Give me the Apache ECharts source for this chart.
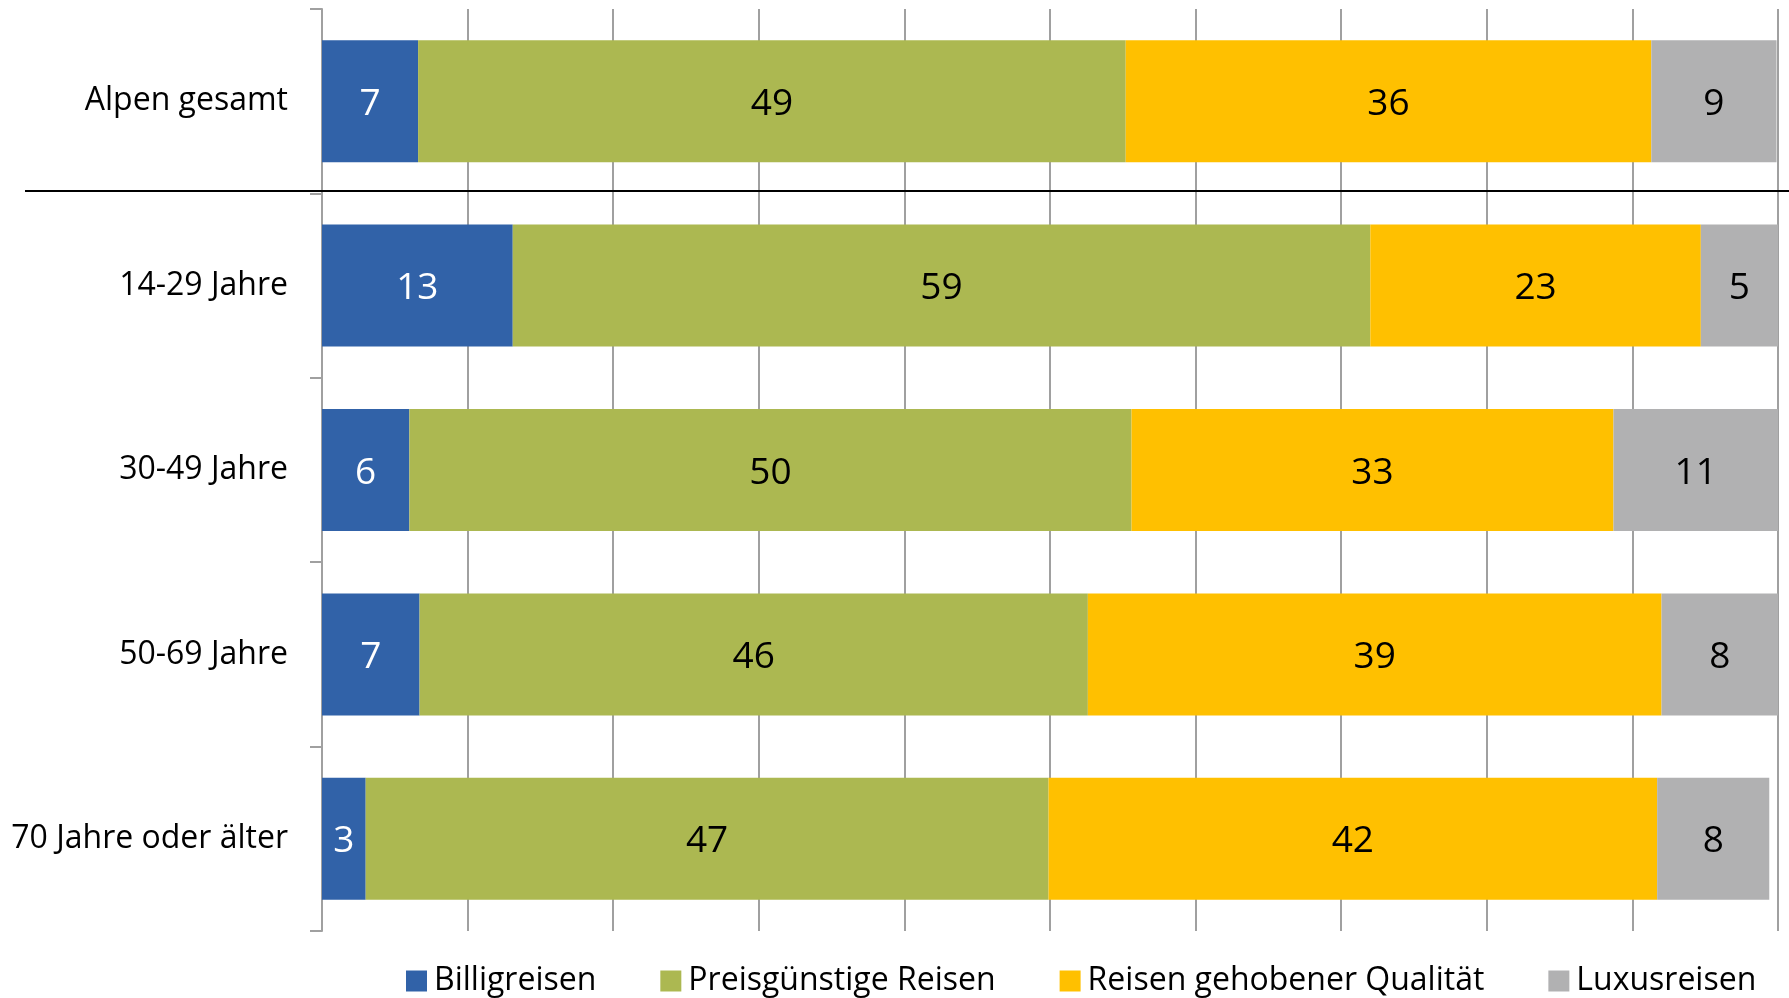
<!DOCTYPE html>
<html>
<head>
<meta charset="utf-8">
<title>Reisearten nach Alter</title>
<script src="https://cdn.jsdelivr.net/npm/echarts@6/dist/echarts.min.js"></script>
<style>
  html, body { margin: 0; padding: 0; background: #fff; }
  #chart { width: 1789px; height: 998px; }
</style>
</head>
<body>
<div id="chart"></div>
<script>
// categories (top to bottom)
const categories = ['Alpen gesamt', '14-29 Jahre', '30-49 Jahre', '50-69 Jahre', '70 Jahre oder älter'];
const seriesNames = ['Billigreisen', 'Preisgünstige Reisen', 'Reisen gehobener Qualität', 'Luxusreisen'];

// shares in % (labels show rounded values)
const billig = [6.6, 13.1, 6.0, 6.7, 3.0];
const preisguenstig = [48.6, 58.9, 49.6, 45.9, 46.9];
const gehoben = [36.1, 22.7, 33.1, 39.4, 41.8];
const luxus = [8.6, 5.3, 11.3, 8.0, 7.7];

const xTicks = [0, 10, 20, 30, 40, 50, 60, 70, 80, 90, 100];

const colors = ['#3162a8', '#acb851', '#ffc000', '#b1b1b2'];
const labelColors = ['#ffffff', '#000000', '#000000', '#000000'];
const FONT = '"Open Sans", "Noto Sans", sans-serif';

const chart = echarts.init(document.getElementById('chart'));

const makeSeries = (name, data, i) => ({
    name,
    type: 'bar',
    stack: 'total',
    data,
    barWidth: 122,
    itemStyle: { color: colors[i] },
    label: {
        show: true,
        position: 'inside',
        offset: [0, 3],
        color: labelColors[i],
        fontFamily: FONT,
        fontSize: 37,
        formatter: p => Math.round(p.value)
    },
    emphasis: { disabled: true }
});

const option = {
    animation: false,
    backgroundColor: '#fff',
    grid: { left: 322, right: 11, top: 9, bottom: 67 },
    legend: {
        data: seriesNames,
        left: 401,
        top: 957,
        icon: 'rect',
        itemWidth: 21,
        itemHeight: 21,
        itemGap: 64,
        textStyle: { fontFamily: FONT, fontSize: 32, color: '#000', lineHeight: 38, padding: [0, 0, 0, 2] }
    },
    xAxis: {
        type: 'value',
        min: xTicks[0],
        max: xTicks[xTicks.length - 1],
        interval: xTicks[1] - xTicks[0],
        axisLine: { show: false },
        axisTick: { show: false },
        axisLabel: { show: false },
        splitLine: { show: true, lineStyle: { color: '#a0a0a0', width: 2 } }
    },
    yAxis: {
        type: 'category',
        inverse: true,
        data: categories,
        axisLine: { show: true, lineStyle: { color: '#a0a0a0', width: 2 } },
        axisTick: { show: true, length: 12, lineStyle: { color: '#a0a0a0', width: 2 } },
        axisLabel: { color: '#000', fontFamily: FONT, fontSize: 32, margin: 34, padding: [8, 0, 0, 0] }
    },
    series: [
        makeSeries(seriesNames[0], billig, 0),
        makeSeries(seriesNames[1], preisguenstig, 1),
        makeSeries(seriesNames[2], gehoben, 2),
        makeSeries(seriesNames[3], luxus, 3)
    ]
};

chart.setOption(option);

// black separator between the total row and the age groups
const y0 = chart.convertToPixel({ yAxisIndex: 0 }, categories[0]);
const y1 = chart.convertToPixel({ yAxisIndex: 0 }, categories[1]);
const sepY = Math.round((y0 + y1) / 2) - 2;
chart.setOption({
    graphic: [{
        type: 'line',
        shape: { x1: 25, y1: sepY, x2: 1789, y2: sepY },
        style: { stroke: '#000', lineWidth: 2 },
        z: 100
    }]
});
</script>
</body>
</html>
